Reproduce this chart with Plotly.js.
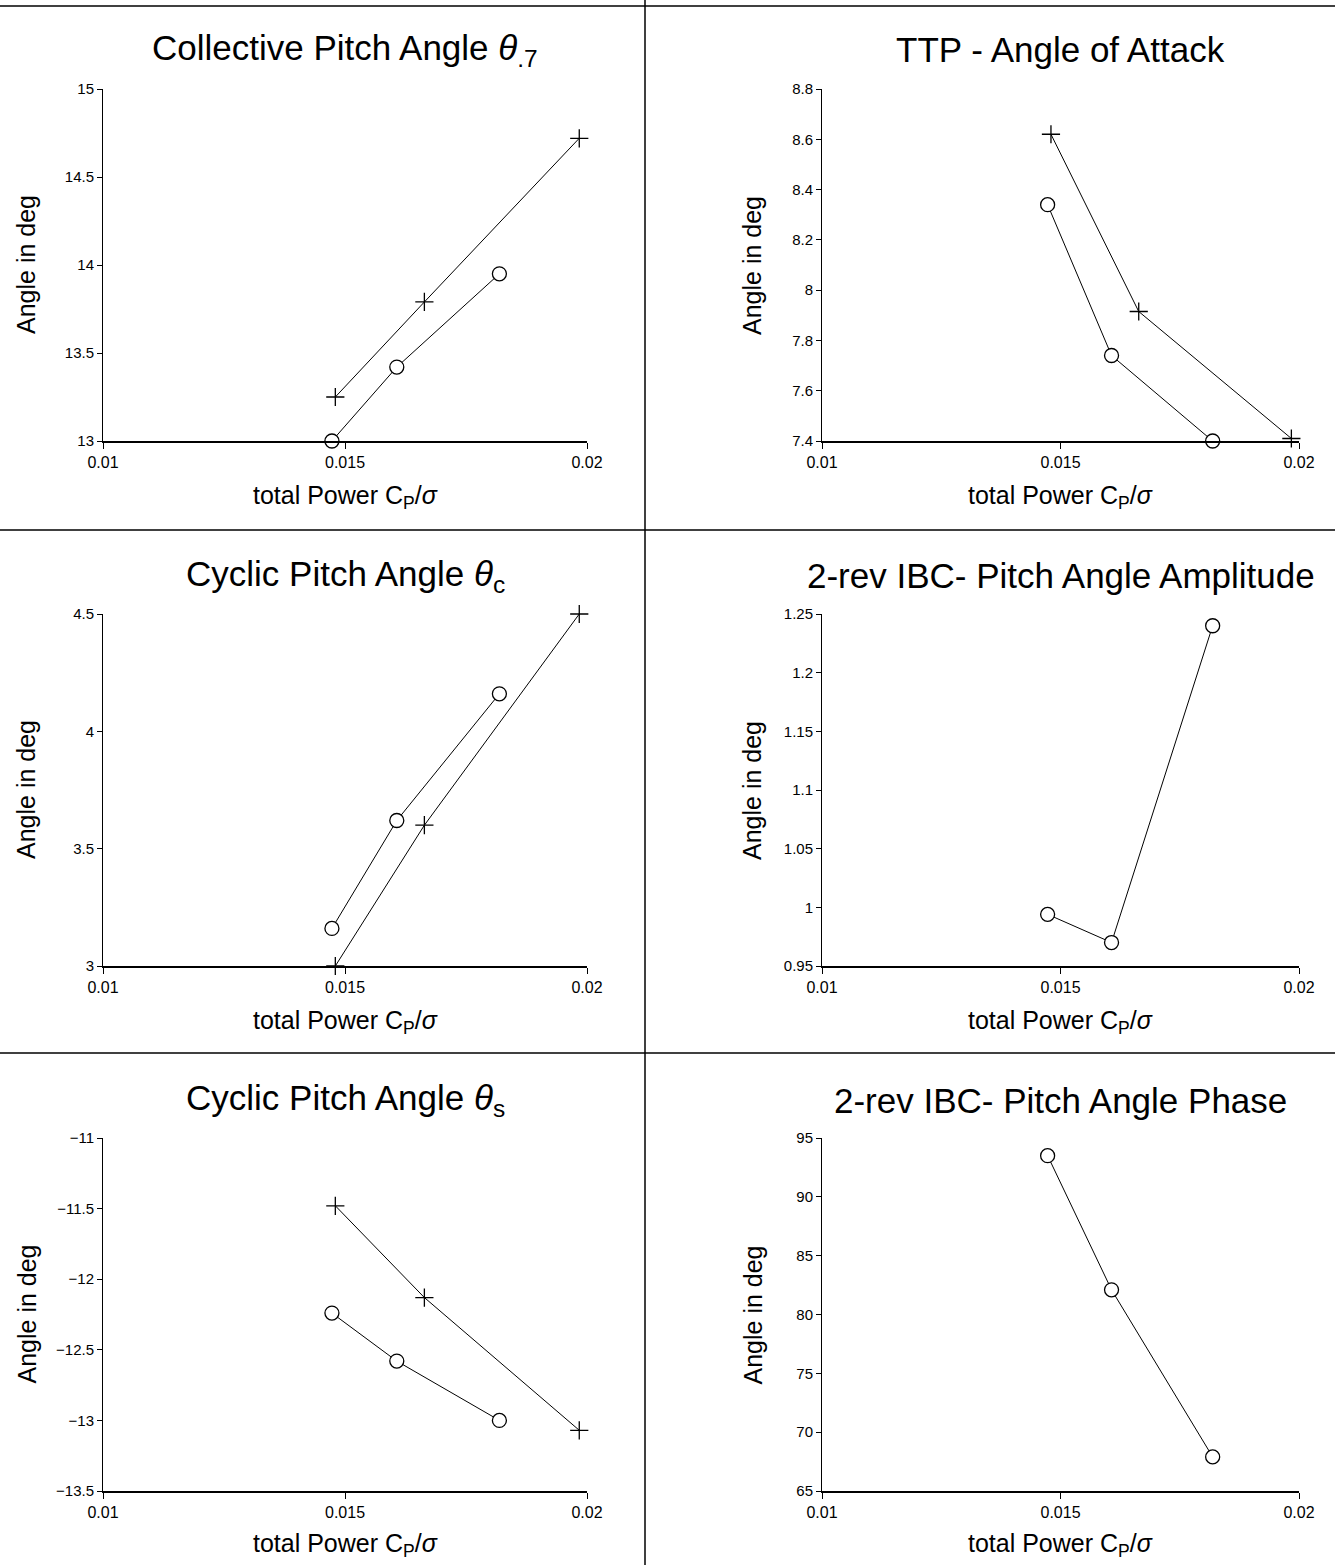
<!DOCTYPE html>
<html>
<head>
<meta charset="utf-8">
<script src="https://cdn.plot.ly/plotly-3.0.1.min.js"></script>
<style>html,body{margin:0;padding:0;background:#fff;}</style>
</head>
<body>
<div id="chart" style="width:1335px;height:1565px;"></div>
<script>
// x values: total power Cp/sigma
const xCircle = [0.01473, 0.01607, 0.01819];
const xPlus   = [0.01480, 0.01664, 0.01984];

// Collective pitch angle theta_.7
const collCircle = [13.00, 13.42, 13.95];
const collPlus   = [13.25, 13.79, 14.72];
// TTP angle of attack
const ttpCircle = [8.34, 7.74, 7.40];
const ttpPlus   = [8.62, 7.915, 7.41];
// Cyclic pitch angle theta_c
const cycCCircle = [3.16, 3.62, 4.16];
const cycCPlus   = [3.00, 3.60, 4.50];
// 2-rev IBC pitch angle amplitude
const ampCircle = [0.994, 0.970, 1.240];
// Cyclic pitch angle theta_s
const cycSCircle = [-12.24, -12.58, -13.00];
const cycSPlus   = [-11.48, -12.13, -13.07];
// 2-rev IBC pitch angle phase
const phaseCircle = [93.5, 82.1, 67.9];

const panelTitles = [
  'Collective Pitch Angle <i>θ</i><sub>.7</sub>',
  'TTP - Angle of Attack',
  'Cyclic Pitch Angle <i>θ</i><sub>c</sub>',
  '2-rev IBC- Pitch Angle Amplitude',
  'Cyclic Pitch Angle <i>θ</i><sub>s</sub>',
  '2-rev IBC- Pitch Angle Phase'
];
const xTitle = 'total Power C<sub>P</sub>/<i>σ</i>';
const yTitle = 'Angle in deg';

const W = 1335, H = 1565;
const FONT = 'Liberation Sans';

// pixel layout of the six panels
const colX = [[103, 587], [822, 1299]];
const rowY = [[89, 441], [614, 966], [1138, 1491]];

const panels = [
  {range: [13, 15], dtick: 0.5, tick0: 13, series: [[xPlus, collPlus, 'plus'], [xCircle, collCircle, 'circle']]},
  {range: [7.4, 8.8], dtick: 0.2, tick0: 7.4, series: [[xPlus, ttpPlus, 'plus'], [xCircle, ttpCircle, 'circle']]},
  {range: [3, 4.5], dtick: 0.5, tick0: 3, series: [[xPlus, cycCPlus, 'plus'], [xCircle, cycCCircle, 'circle']]},
  {range: [0.95, 1.25], dtick: 0.05, tick0: 0.95, series: [[xCircle, ampCircle, 'circle']]},
  {range: [-13.5, -11], dtick: 0.5, tick0: -13.5, series: [[xPlus, cycSPlus, 'plus'], [xCircle, cycSCircle, 'circle']]},
  {range: [65, 95], dtick: 5, tick0: 65, series: [[xCircle, phaseCircle, 'circle']]}
];

const data = [];
const layout = {
  width: W, height: H,
  margin: {l: 0, r: 0, t: 0, b: 0},
  paper_bgcolor: '#fff', plot_bgcolor: '#fff',
  showlegend: false,
  font: {family: FONT, color: '#000', size: 15},
  annotations: [], shapes: []
};

panels.forEach((p, i) => {
  const n = i + 1;
  const col = i % 2, row = Math.floor(i / 2);
  const xs = colX[col], ys = rowY[row];
  const xa = 'xaxis' + (n === 1 ? '' : n), ya = 'yaxis' + (n === 1 ? '' : n);
  const xr = 'x' + (n === 1 ? '' : n), yr = 'y' + (n === 1 ? '' : n);
  layout[xa] = {
    domain: [xs[0] / W, xs[1] / W], anchor: yr,
    range: [0.01, 0.02], tick0: 0.01, dtick: 0.005,
    showline: true, linewidth: 2, linecolor: '#000',
    ticks: 'outside', ticklen: 6, tickwidth: 1, tickcolor: '#000',
    showgrid: false, zeroline: false,
    tickfont: {family: FONT, size: 16, color: '#000'}
  };
  layout[ya] = {
    domain: [1 - ys[1] / H, 1 - ys[0] / H], anchor: xr,
    range: p.range, dtick: p.dtick, tick0: p.tick0,
    showline: true, linewidth: 1, linecolor: '#000',
    ticks: 'outside', ticklen: 5, tickwidth: 1, tickcolor: '#000',
    showgrid: false, zeroline: false,
    tickfont: {family: FONT, size: 15, color: '#000'}
  };
  p.series.forEach(s => {
    const isCircle = s[2] === 'circle';
    data.push({
      type: 'scatter', mode: 'lines+markers',
      x: s[0], y: s[1], xaxis: xr, yaxis: yr,
      cliponaxis: false,
      line: {color: '#000', width: 1},
      marker: isCircle
        ? {symbol: 'circle', size: 14, color: '#fff', line: {color: '#000', width: 1.3}}
        : {symbol: 'cross-thin-open', size: 13, color: '#000', line: {color: '#000', width: 1.3}}
    });
  });
  const titleY = [50, 576, 1100][row];
  const xTitleY = [497, 1022, 1545][row];
  const yTitleX = [26, 752][col];
  const cx = (xs[0] + xs[1]) / 2 / W;
  layout.annotations.push(
    {
      text: panelTitles[i], xref: 'paper', yref: 'paper',
      x: cx, y: 1 - titleY / H,
      xanchor: 'center', yanchor: 'middle', showarrow: false,
      font: {family: FONT, size: 35, color: '#000'}
    },
    {
      text: xTitle, xref: 'paper', yref: 'paper',
      x: cx, y: 1 - xTitleY / H,
      xanchor: 'center', yanchor: 'middle', showarrow: false,
      font: {family: FONT, size: 25, color: '#000'}
    },
    {
      text: yTitle, xref: 'paper', yref: 'paper', textangle: -90,
      x: yTitleX / W, y: 1 - (ys[0] + ys[1]) / 2 / H,
      xanchor: 'center', yanchor: 'middle', showarrow: false,
      font: {family: FONT, size: 25, color: '#000'}
    }
  );
});

// frame / divider lines
const lineStyle = {color: '#000', width: 1.5};
layout.shapes.push(
  {type: 'line', xref: 'paper', yref: 'paper', x0: 0, x1: 1, y0: 1 - 6 / H, y1: 1 - 6 / H, line: lineStyle},
  {type: 'line', xref: 'paper', yref: 'paper', x0: 0, x1: 1, y0: 1 - 530 / H, y1: 1 - 530 / H, line: lineStyle},
  {type: 'line', xref: 'paper', yref: 'paper', x0: 0, x1: 1, y0: 1 - 1053 / H, y1: 1 - 1053 / H, line: lineStyle},
  {type: 'line', xref: 'paper', yref: 'paper', x0: 645 / W, x1: 645 / W, y0: 0, y1: 1, line: lineStyle}
);

Plotly.newPlot('chart', data, layout, {displayModeBar: false, staticPlot: true});
</script>
</body>
</html>
